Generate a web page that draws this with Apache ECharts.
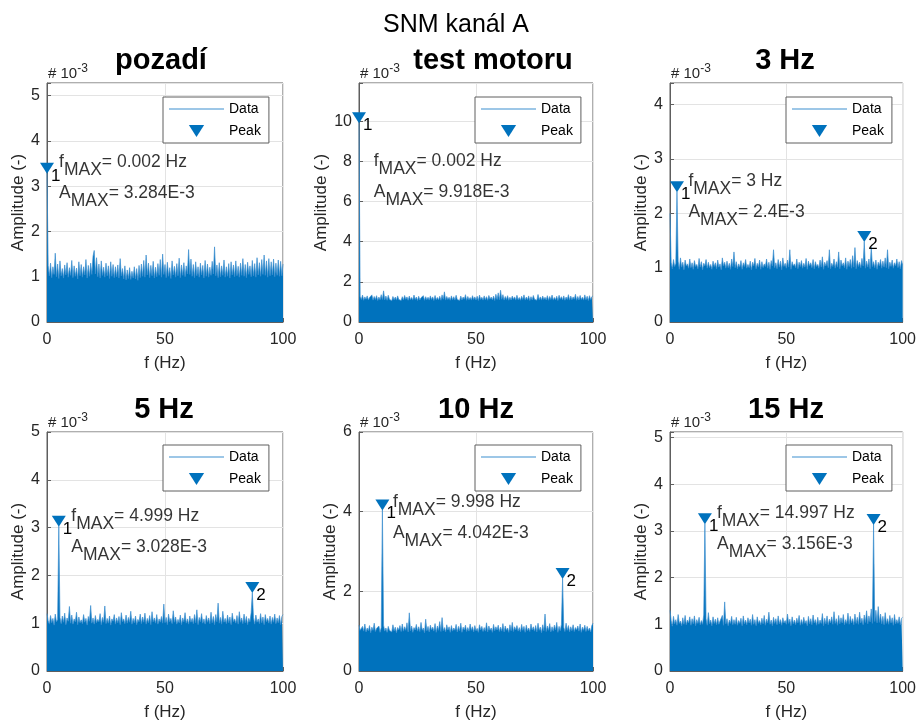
<!DOCTYPE html>
<html>
<head>
<meta charset="utf-8">
<script src="https://cdn.jsdelivr.net/npm/echarts@6/dist/echarts.min.js"></script>
<style>
  html, body { margin: 0; padding: 0; background: #fff; }
  #chart { width: 919px; height: 722px; }
</style>
</head>
<body>
<div id="chart"></div>
<script>
// ---- data -------------------------------------------------------------
const suptitle = 'SNM kanál A';
const titles = ['pozadí', 'test motoru', '3 Hz', '5 Hz', '10 Hz', '15 Hz'];
const FREQ_STEP = 0.5;            // Hz between spectrum samples
const xTicks = [0, 50, 100];
const yMax = [5.28, 11.9, 4.4, 5, 6, 5.12];   // x 10^-3
const yStep = [1, 2, 1, 1, 2, 1];

// dominant peak of each spectrum (f in Hz, amplitude in 10^-3)
const peakF = [0.002, 0.002, 3, 4.999, 9.998, 14.997];
const peakA = [3.284, 9.918, 2.4, 3.028, 4.042, 3.156];
// second detected peak (null = none)
const peak2F = [null, null, 83.5, 87, 87, 87.5];
const peak2A = [null, null, 1.48, 1.64, 2.32, 3.14];

// amplitude spectra, 0 ... 100 Hz in 0.5 Hz steps (x 10^-3)
const ampPozadi = [
  3.284, 1.25, 1.02, 1.30, 0.98, 1.22, 1.05, 1.52, 1.00, 1.28, 0.96, 1.35, 1.02, 1.18, 0.97, 1.26, 1.04, 1.31, 0.99, 1.20,
  1.03, 1.36, 0.98, 1.24, 1.01, 1.19, 0.95, 1.33, 1.02, 1.27, 0.99, 1.22, 1.04, 1.38, 0.97, 1.25, 1.01, 1.30, 1.05, 1.45,
  1.58, 1.06, 1.42, 1.00, 1.28, 0.97, 1.35, 1.03, 1.21, 0.99, 1.30, 1.02, 1.24, 0.96, 1.33, 1.01, 1.27, 0.98, 1.22, 1.00,
  1.26, 0.97, 1.40, 1.02, 1.18, 0.95, 1.24, 0.93, 1.15, 0.96, 1.20, 0.94, 1.12, 0.97, 1.22, 0.95, 1.18, 0.92, 1.25, 0.98,
  1.28, 1.01, 1.36, 0.99, 1.48, 1.04, 1.30, 0.98, 1.25, 1.02, 1.34, 0.97, 1.21, 1.00, 1.29, 1.03, 1.38, 0.99, 1.50, 1.05,
  1.27, 0.98, 1.32, 1.01, 1.20, 0.96, 1.35, 1.04, 1.23, 0.99, 1.29, 1.02, 1.41, 0.98, 1.26, 1.03, 1.31, 1.00, 1.24, 1.06,
  1.60, 1.05, 1.39, 1.01, 1.27, 0.98, 1.33, 1.02, 1.22, 0.99, 1.30, 1.04, 1.25, 0.97, 1.36, 1.01, 1.28, 0.99, 1.21, 1.03,
  1.34, 1.06, 1.66, 1.02, 1.26, 0.98, 1.31, 1.00, 1.24, 1.03, 1.37, 0.99, 1.22, 1.01, 1.29, 0.97, 1.33, 1.04, 1.26, 1.00,
  1.35, 1.02, 1.23, 0.99, 1.30, 1.03, 1.40, 1.01, 1.27, 0.98, 1.32, 1.05, 1.24, 1.00, 1.36, 1.02, 1.29, 0.99, 1.42, 1.04,
  1.31, 1.01, 1.38, 1.05, 1.48, 1.03, 1.35, 0.99, 1.40, 1.02, 1.33, 1.04, 1.39, 1.00, 1.30, 1.03, 1.37, 1.01, 1.34, 1.02,
  1.28
];
const ampMotor = [
  9.918, 1.28, 1.12, 1.34, 1.08, 1.25, 1.13, 1.30, 1.10, 1.22, 1.14, 1.35, 1.09, 1.27, 1.12, 1.31, 1.07, 1.24, 1.11, 1.36,
  1.12, 1.55, 1.10, 1.29, 1.08, 1.33, 1.13, 1.21, 1.06, 1.27, 1.11, 1.24, 1.09, 1.30, 1.12, 1.20, 1.07, 1.26, 1.10, 1.32,
  1.13, 1.25, 1.08, 1.29, 1.11, 1.22, 1.09, 1.34, 1.12, 1.24, 1.07, 1.28, 1.10, 1.21, 1.13, 1.31, 1.08, 1.26, 1.11, 1.23,
  1.09, 1.30, 1.12, 1.25, 1.07, 1.32, 1.11, 1.22, 1.10, 1.28, 1.08, 1.35, 1.13, 1.50, 1.09, 1.27, 1.12, 1.23, 1.08, 1.30,
  1.11, 1.26, 1.09, 1.33, 1.12, 1.21, 1.07, 1.29, 1.10, 1.24, 1.13, 1.36, 1.08, 1.27, 1.11, 1.22, 1.09, 1.31, 1.12, 1.25,
  1.10, 1.28, 1.07, 1.34, 1.12, 1.23, 1.09, 1.30, 1.11, 1.26, 1.08, 1.32, 1.13, 1.24, 1.10, 1.29, 1.07, 1.38, 1.12, 1.45,
  1.11, 1.58, 1.13, 1.36, 1.09, 1.27, 1.12, 1.31, 1.08, 1.23, 1.10, 1.29, 1.13, 1.25, 1.09, 1.33, 1.11, 1.22, 1.08, 1.28,
  1.12, 1.35, 1.09, 1.24, 1.11, 1.30, 1.07, 1.26, 1.10, 1.32, 1.13, 1.21, 1.08, 1.37, 1.11, 1.25, 1.09, 1.29, 1.12, 1.23,
  1.10, 1.31, 1.08, 1.27, 1.12, 1.34, 1.09, 1.22, 1.11, 1.28, 1.07, 1.33, 1.13, 1.26, 1.10, 1.30, 1.08, 1.24, 1.12, 1.36,
  1.09, 1.29, 1.11, 1.25, 1.13, 1.38, 1.08, 1.27, 1.10, 1.32, 1.12, 1.23, 1.09, 1.35, 1.11, 1.28, 1.07, 1.31, 1.12, 1.26,
  1.30
];
const amp3Hz = [
  2.00, 1.10, 0.98, 1.15, 1.02, 1.08, 2.40, 1.12, 0.97, 1.18, 1.01, 1.10, 0.96, 1.14, 1.03, 1.07, 0.99, 1.16, 1.00, 1.09,
  0.97, 1.13, 1.02, 1.06, 0.98, 1.17, 1.01, 1.11, 0.96, 1.08, 1.03, 1.15, 0.99, 1.10, 1.00, 1.06, 0.97, 1.12, 1.02, 1.09,
  0.98, 1.14, 1.01, 1.07, 0.96, 1.18, 1.03, 1.10, 0.99, 1.12, 1.00, 1.08, 0.97, 1.16, 1.02, 1.29, 1.00, 1.11, 0.98, 1.07,
  1.01, 1.13, 0.97, 1.09, 1.02, 1.15, 0.99, 1.06, 1.00, 1.12, 0.96, 1.10, 1.03, 1.17, 0.98, 1.08, 1.01, 1.14, 0.97, 1.11,
  1.00, 1.07, 1.02, 1.16, 0.99, 1.10, 0.97, 1.13, 1.03, 1.33, 1.00, 1.09, 0.98, 1.15, 1.01, 1.12, 0.96, 1.18, 1.02, 1.08,
  0.99, 1.14, 1.01, 1.33, 0.97, 1.11, 1.03, 1.07, 1.00, 1.16, 0.98, 1.10, 1.02, 1.13, 0.99, 1.08, 1.01, 1.17, 0.97, 1.12,
  1.03, 1.09, 1.00, 1.15, 0.98, 1.11, 1.02, 1.06, 0.99, 1.14, 1.01, 1.20, 0.97, 1.10, 1.03, 1.13, 1.00, 1.33, 0.98, 1.08,
  1.02, 1.16, 0.99, 1.11, 1.01, 1.29, 0.98, 1.14, 1.03, 1.09, 1.00, 1.18, 0.97, 1.12, 1.02, 1.15, 0.99, 1.22, 1.01, 1.37,
  0.98, 1.13, 1.02, 1.10, 1.00, 1.17, 1.03, 1.48, 0.99, 1.12, 1.01, 1.16, 0.98, 1.38, 1.02, 1.11, 1.00, 1.14, 0.97, 1.10,
  1.03, 1.15, 0.99, 1.12, 1.01, 1.18, 1.00, 1.33, 0.98, 1.10, 1.02, 1.14, 0.99, 1.09, 1.03, 1.16, 1.00, 1.11, 0.98, 1.13,
  1.05
];
const amp5Hz = [
  1.20, 1.05, 0.98, 1.16, 1.01, 1.10, 0.96, 1.19, 1.03, 1.08, 3.028, 1.12, 0.99, 1.15, 1.02, 1.21, 0.97, 1.11, 1.04, 1.35,
  1.00, 1.17, 0.98, 1.09, 1.03, 1.23, 0.97, 1.13, 1.01, 1.07, 0.99, 1.18, 1.02, 1.10, 0.96, 1.14, 1.04, 1.37, 1.00, 1.11,
  0.98, 1.16, 1.01, 1.08, 1.03, 1.20, 0.97, 1.12, 1.02, 1.36, 0.99, 1.10, 1.00, 1.15, 0.96, 1.09, 1.04, 1.18, 0.98, 1.11,
  1.01, 1.14, 0.97, 1.22, 1.03, 1.09, 0.99, 1.17, 1.00, 1.12, 1.02, 1.25, 0.98, 1.10, 1.01, 1.15, 0.97, 1.08, 1.03, 1.19,
  0.99, 1.13, 1.02, 1.21, 0.98, 1.10, 1.01, 1.16, 0.97, 1.24, 1.03, 1.11, 1.00, 1.18, 0.98, 1.09, 1.02, 1.14, 1.00, 1.40,
  1.01, 1.12, 0.97, 1.19, 1.03, 1.10, 0.99, 1.26, 1.02, 1.13, 0.98, 1.08, 1.01, 1.17, 0.97, 1.11, 1.03, 1.22, 1.00, 1.09,
  0.98, 1.15, 1.02, 1.10, 0.99, 1.18, 1.01, 1.28, 0.97, 1.12, 1.03, 1.20, 1.00, 1.09, 0.98, 1.16, 1.02, 1.11, 0.99, 1.23,
  1.01, 1.14, 0.97, 1.18, 1.03, 1.42, 1.00, 1.12, 0.98, 1.25, 1.02, 1.10, 0.99, 1.17, 1.01, 1.13, 0.97, 1.21, 1.03, 1.09,
  1.00, 1.16, 0.98, 1.24, 1.02, 1.11, 0.99, 1.19, 1.01, 1.14, 0.97, 1.10, 1.03, 1.22, 1.64, 1.12, 0.98, 1.17, 1.02, 1.09,
  0.99, 1.20, 1.01, 1.13, 0.97, 1.18, 1.03, 1.10, 1.00, 1.15, 0.98, 1.12, 1.02, 1.19, 0.99, 1.11, 1.01, 1.16, 0.97, 1.14,
  1.18
];
const amp10Hz = [
  1.15, 1.02, 0.97, 1.12, 1.00, 1.18, 0.98, 1.08, 1.01, 1.14, 0.96, 1.10, 1.02, 1.20, 0.99, 1.07, 1.03, 1.13, 0.97, 1.09,
  4.042, 1.15, 1.00, 1.08, 0.97, 1.12, 1.02, 1.06, 0.98, 1.16, 1.01, 1.10, 0.96, 1.09, 1.03, 1.14, 0.99, 1.18, 1.00, 1.11,
  1.02, 1.21, 0.98, 1.46, 1.01, 1.13, 0.97, 1.09, 1.03, 1.17, 1.00, 1.11, 0.99, 1.22, 1.02, 1.08, 0.96, 1.30, 1.01, 1.12,
  0.98, 1.15, 1.03, 1.10, 1.00, 1.19, 0.97, 1.13, 1.02, 1.24, 0.99, 1.34, 1.01, 1.09, 0.98, 1.16, 1.03, 1.11, 0.97, 1.14,
  1.00, 1.08, 1.02, 1.17, 0.98, 1.12, 1.01, 1.20, 0.97, 1.10, 1.03, 1.15, 0.99, 1.09, 1.00, 1.18, 1.02, 1.11, 0.98, 1.14,
  1.01, 1.07, 0.97, 1.16, 1.03, 1.12, 0.99, 1.09, 1.00, 1.21, 0.98, 1.13, 1.02, 1.08, 0.97, 1.17, 1.01, 1.11, 1.03, 1.15,
  0.99, 1.10, 1.00, 1.19, 0.98, 1.13, 1.02, 1.08, 0.97, 1.16, 1.01, 1.22, 0.99, 1.11, 1.03, 1.14, 1.00, 1.09, 0.98, 1.17,
  1.02, 1.12, 0.97, 1.15, 1.01, 1.08, 0.99, 1.18, 1.03, 1.11, 1.00, 1.14, 0.98, 1.20, 1.02, 1.10, 0.96, 1.16, 1.01, 1.43,
  0.99, 1.13, 1.02, 1.19, 0.98, 1.11, 1.00, 1.15, 1.03, 1.22, 0.97, 1.12, 1.01, 1.17, 2.32, 1.10, 0.99, 1.20, 1.02, 1.14,
  0.98, 1.11, 1.01, 1.16, 0.99, 1.09, 1.03, 1.13, 1.00, 1.18, 0.97, 1.10, 1.02, 1.15, 0.99, 1.12, 1.01, 1.08, 0.98, 1.14,
  1.20
];
const amp15Hz = [
  1.30, 1.08, 0.96, 1.17, 1.01, 1.10, 0.98, 1.21, 1.02, 1.07, 0.97, 1.14, 1.00, 1.19, 0.99, 1.09, 1.03, 1.16, 0.98, 1.12,
  1.01, 1.18, 0.97, 1.10, 1.02, 1.15, 0.99, 1.08, 1.00, 1.20, 3.156, 1.12, 0.98, 1.25, 1.01, 1.09, 0.97, 1.16, 1.02, 1.11,
  0.99, 1.14, 1.00, 1.07, 1.03, 1.19, 0.98, 1.48, 1.01, 1.12, 0.97, 1.09, 1.02, 1.17, 0.99, 1.10, 1.00, 1.15, 0.98, 1.08,
  1.02, 1.13, 0.97, 1.18, 1.01, 1.09, 0.99, 1.14, 1.03, 1.11, 0.98, 1.21, 1.00, 1.10, 0.97, 1.16, 1.02, 1.08, 0.99, 1.13,
  1.01, 1.19, 0.98, 1.11, 1.03, 1.26, 1.00, 1.09, 0.97, 1.15, 1.02, 1.12, 0.99, 1.18, 1.01, 1.10, 0.98, 1.14, 1.03, 1.08,
  1.00, 1.22, 1.02, 1.11, 0.97, 1.16, 1.01, 1.09, 0.99, 1.13, 1.03, 1.19, 0.98, 1.10, 1.00, 1.15, 1.02, 1.08, 0.97, 1.17,
  1.01, 1.12, 0.99, 1.20, 1.03, 1.10, 0.98, 1.15, 1.00, 1.09, 1.02, 1.23, 0.97, 1.13, 1.01, 1.18, 0.99, 1.11, 1.03, 1.16,
  1.00, 1.27, 1.02, 1.12, 0.98, 1.19, 1.01, 1.14, 1.03, 1.21, 0.99, 1.10, 1.02, 1.24, 1.00, 1.17, 1.03, 1.12, 0.99, 1.22,
  1.02, 1.15, 1.00, 1.26, 1.03, 1.13, 0.99, 1.20, 1.04, 1.29, 1.01, 1.18, 1.05, 1.33, 1.02, 3.14, 1.06, 1.30, 1.03, 1.38,
  1.04, 1.22, 1.01, 1.17, 0.99, 1.25, 1.02, 1.12, 1.00, 1.19, 1.03, 1.14, 0.98, 1.21, 1.01, 1.10, 1.02, 1.16, 0.99, 1.13,
  1.15
];
const spectra = [ampPozadi, ampMotor, amp3Hz, amp5Hz, amp10Hz, amp15Hz];

// ---- layout ---------------------------------------------------------------
const FONT = '"Liberation Sans", Arial, Helvetica, sans-serif';
const BLUE = '#0072BD';
const LIGHT_BLUE = '#3d8fd0';
const AXIS_COLOR = '#5e5e5e';
const TEXT_DARK = '#262626';

const grids = [
  { left: 47, top: 83, width: 236, height: 239 },
  { left: 359, top: 83, width: 234, height: 239 },
  { left: 670, top: 83, width: 233, height: 239 },
  { left: 47, top: 432, width: 236, height: 239 },
  { left: 359, top: 432, width: 234, height: 239 },
  { left: 670, top: 432, width: 233, height: 239 }
];
const titleCenterX = [161, 493, 785, 164, 476, 786];
// where the f_MAX / A_MAX note sits (axis units)
const noteAt = [[5.1, 3.18], [6.3, 7.22], [7.9, 2.31], [10.3, 2.91], [14.5, 3.86], [20.2, 3.04]];

// ---- option -------------------------------------------------------------
const option = {
  backgroundColor: '#fff',
  animation: false,
  textStyle: { fontFamily: FONT },
  grid: [], xAxis: [], yAxis: [], series: [], legend: [], graphic: []
};

option.graphic.push({
  type: 'text', x: 456, y: 25,
  style: { text: suptitle, font: '25px ' + FONT, fill: '#000', align: 'center', verticalAlign: 'middle' }
});

grids.forEach((g, i) => {
  option.grid.push({
    left: g.left, top: g.top, width: g.width, height: g.height,
    show: true, borderColor: AXIS_COLOR, borderWidth: 1, backgroundColor: '#fff', containLabel: false
  });

  option.xAxis.push({
    type: 'value', gridIndex: i, min: xTicks[0], max: xTicks[xTicks.length - 1],
    interval: xTicks[1] - xTicks[0],
    name: 'f (Hz)', nameLocation: 'middle', nameGap: 33,
    nameTextStyle: { fontSize: 17, color: TEXT_DARK, fontFamily: FONT },
    axisLine: { show: true, onZero: false, lineStyle: { color: AXIS_COLOR } },
    axisTick: { show: true, inside: true, length: 4, lineStyle: { color: AXIS_COLOR } },
    axisLabel: { fontSize: 16, color: TEXT_DARK, margin: 10, fontFamily: FONT },
    splitLine: { show: true, lineStyle: { color: '#e3e3e3', width: 1 } }
  });

  const step = yStep[i];
  option.yAxis.push({
    type: 'value', gridIndex: i, min: 0, max: yMax[i], interval: step,
    name: 'Amplitude (-)', nameLocation: 'middle', nameGap: 17,
    nameTextStyle: { fontSize: 17, color: TEXT_DARK, fontFamily: FONT },
    axisLine: { show: true, lineStyle: { color: AXIS_COLOR } },
    axisTick: { show: true, inside: true, length: 4, lineStyle: { color: AXIS_COLOR } },
    axisLabel: {
      fontSize: 16, color: TEXT_DARK, margin: 7, fontFamily: FONT,
      formatter: v => (Math.abs(v / step - Math.round(v / step)) < 1e-9 ? String(v) : '')
    },
    splitLine: { show: true, lineStyle: { color: '#e3e3e3', width: 1 } }
  });

  // spectrum
  option.series.push({
    type: 'line', name: 'Data', xAxisIndex: i, yAxisIndex: i,
    data: spectra[i].map((v, k) => [k * FREQ_STEP, v]),
    symbol: 'none', showSymbol: false,
    lineStyle: { color: LIGHT_BLUE, width: 0.7 },
    itemStyle: { color: BLUE },
    areaStyle: { color: BLUE, opacity: 1 },
    z: 2
  });

  // detected peaks
  const peaks = [[peakF[i], peakA[i], '1']];
  if (peak2F[i] !== null) peaks.push([peak2F[i], peak2A[i], '2']);
  option.series.push({
    type: 'scatter', name: 'Peak', xAxisIndex: i, yAxisIndex: i,
    data: peaks,
    symbol: 'path://M0,0L14,0L7,11Z', symbolSize: [14, 11], symbolOffset: [0, -5],
    itemStyle: { color: BLUE, opacity: 1 },
    label: {
      show: true, position: 'right', distance: 0, offset: [-3, 8],
      formatter: p => p.value[2], fontSize: 17, color: '#000', fontFamily: FONT
    },
    z: 4
  });

  // f_MAX / A_MAX note
  const fText = String(peakF[i]);
  const aText = String(peakA[i]) + 'E-3';
  option.series.push({
    type: 'scatter', name: 'note', xAxisIndex: i, yAxisIndex: i, silent: true,
    data: [noteAt[i]], symbolSize: 0,
    label: {
      show: true, position: 'right', distance: 0,
      formatter: '{m|f}{s|MAX}{m|= ' + fText + ' Hz}\n{m|A}{s|MAX}{m|= ' + aText + '}',
      rich: {
        m: { fontSize: 17.5, color: '#000', lineHeight: 31, fontFamily: FONT },
        s: { fontSize: 17.5, color: '#000', lineHeight: 15, padding: [16, 0, 0, 0], fontFamily: FONT }
      }
    },
    z: 5
  });

  option.legend.push({
    data: [
      { name: 'Data', icon: 'path://M0,0H55V1H0Z', itemStyle: { color: LIGHT_BLUE } },
      { name: 'Peak' }
    ],
    orient: 'vertical',
    left: g.left + 116, top: g.top + (i < 3 ? 14 : 13),
    itemWidth: 55, itemHeight: 12, itemGap: 8,
    padding: [5, 8, 5, 6],
    backgroundColor: '#fff', borderColor: AXIS_COLOR, borderWidth: 1, borderRadius: 0,
    textStyle: { fontSize: 14, color: '#000', fontFamily: FONT },
    selectedMode: false
  });

  // subplot title
  option.graphic.push({
    type: 'text', x: titleCenterX[i], y: g.top - 22,
    style: { text: titles[i], font: 'bold 29px ' + FONT, fill: '#000', align: 'center', verticalAlign: 'middle' }
  });
  // axis exponent
  option.graphic.push({
    type: 'text', x: g.left + 1, y: g.top - 9,
    style: {
      text: '{a|# 10}{b|-3}', align: 'left', verticalAlign: 'middle',
      rich: {
        a: { fontSize: 15, fill: TEXT_DARK, fontFamily: FONT },
        b: { fontSize: 12, fill: TEXT_DARK, fontFamily: FONT, padding: [0, 0, 10, 0] }
      }
    }
  });
});

const chart = echarts.init(document.getElementById('chart'), null, { renderer: 'canvas' });
chart.setOption(option);
</script>
</body>
</html>
